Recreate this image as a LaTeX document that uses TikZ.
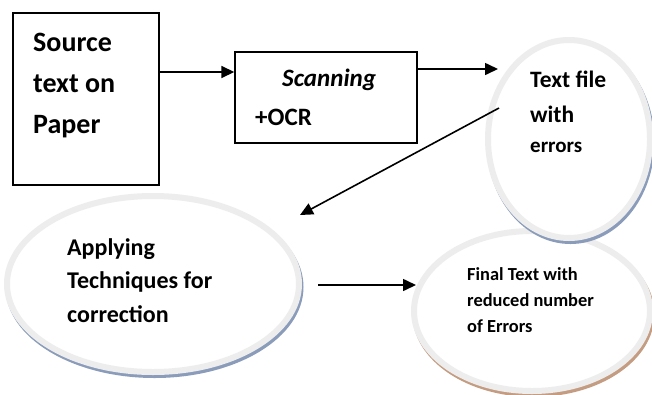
\documentclass[tikz,border=0pt]{standalone}
\usepackage{fontspec}
\setmainfont{Carlito}
\usetikzlibrary{shapes.geometric,arrows.meta,shadows}
\definecolor{ringgray}{HTML}{EDEDED}
\definecolor{blueshade}{HTML}{8A9CBA}
\definecolor{brownshade}{HTML}{C49C82}
\begin{document}
\begin{tikzpicture}[x=1pt,y=-1pt,
  box/.style={draw=black,line width=1.4pt,inner sep=0pt,fill=white},
  oval/.style={ellipse,draw=ringgray,line width=6pt,fill=white,inner sep=0pt,
    drop shadow={shadow xshift=1.5pt,shadow yshift=-3pt,fill=#1,draw=#1,line width=6pt,opacity=1}},
  lbl/.style={anchor=base west,inner sep=0pt,font=\bfseries},
  flow/.style={line width=1.6pt,-{Triangle[length=13pt,width=12pt]}}]
\useasboundingbox (0,0) rectangle (652,394);
\fill[white] (0,0) rectangle (652,394);
% boxes
\node[box,minimum width=146pt,minimum height=172pt] (b1) at (86,99) {};
\node[box,minimum width=182pt,minimum height=91pt] (b2) at (326,97.5) {};
% ellipses
\node[oval=blueshade,minimum width=292pt,minimum height=176pt] (e2) at (153,284) {};
\node[oval=brownshade,minimum width=236pt,minimum height=160pt] (e3) at (532,311) {};
\node[oval=blueshade,minimum width=162pt,minimum height=198pt] (e1) at (569,139) {};
% texts
\node[lbl,font=\bfseries\fontsize{28}{34}\selectfont] (s1) at (33,51) {Source};
\node[lbl,font=\bfseries\fontsize{28}{34}\selectfont] (s2) at (33,92) {text on};
\node[lbl,font=\bfseries\fontsize{28}{34}\selectfont] (s3) at (33,133) {Paper};
\node[lbl,font=\bfseries\itshape\fontsize{25}{30}\selectfont] (c1) at (282,86) {Scanning};
\node[lbl,font=\bfseries\fontsize{25}{30}\selectfont] (c2) at (255,125) {+OCR};
\node[lbl,font=\bfseries\fontsize{23.5}{28}\selectfont] (f1) at (530,87) {Text file};
\node[lbl,font=\bfseries\fontsize{23.5}{28}\selectfont] (f2) at (530,122) {with};
\node[lbl,font=\bfseries\fontsize{21}{25}\selectfont] (f3) at (530,152) {errors};
\node[lbl,font=\bfseries\fontsize{24}{29}\selectfont] (p1) at (67,255) {Applying};
\node[lbl,font=\bfseries\fontsize{24}{29}\selectfont] (p2) at (67,288) {Techniques for};
\node[lbl,font=\bfseries\fontsize{24}{29}\selectfont] (p3) at (67,322) {correction};
\node[lbl,font=\bfseries\fontsize{18.4}{22}\selectfont] (r1) at (467,280) {Final Text with};
\node[lbl,font=\bfseries\fontsize{18.4}{22}\selectfont] (r2) at (467,306) {reduced number};
\node[lbl,font=\bfseries\fontsize{18.4}{22}\selectfont] (r3) at (467,332) {of Errors};
% connector ends
\coordinate (a2end) at (498,69);
\coordinate (a3start) at (499,108);
\coordinate (a3end) at (300,215);
\coordinate (a4start) at (318,285);
\coordinate (a4end) at (416,285);
% arrows
\draw[flow] (b1.east |- 0,72) -- (b2.west |- 0,72);
\draw[flow] (b2.east |- a2end) -- (a2end);
\draw[flow] (a3start) -- (a3end);
\draw[flow] (a4start) -- (a4end);
\end{tikzpicture}
\end{document}
